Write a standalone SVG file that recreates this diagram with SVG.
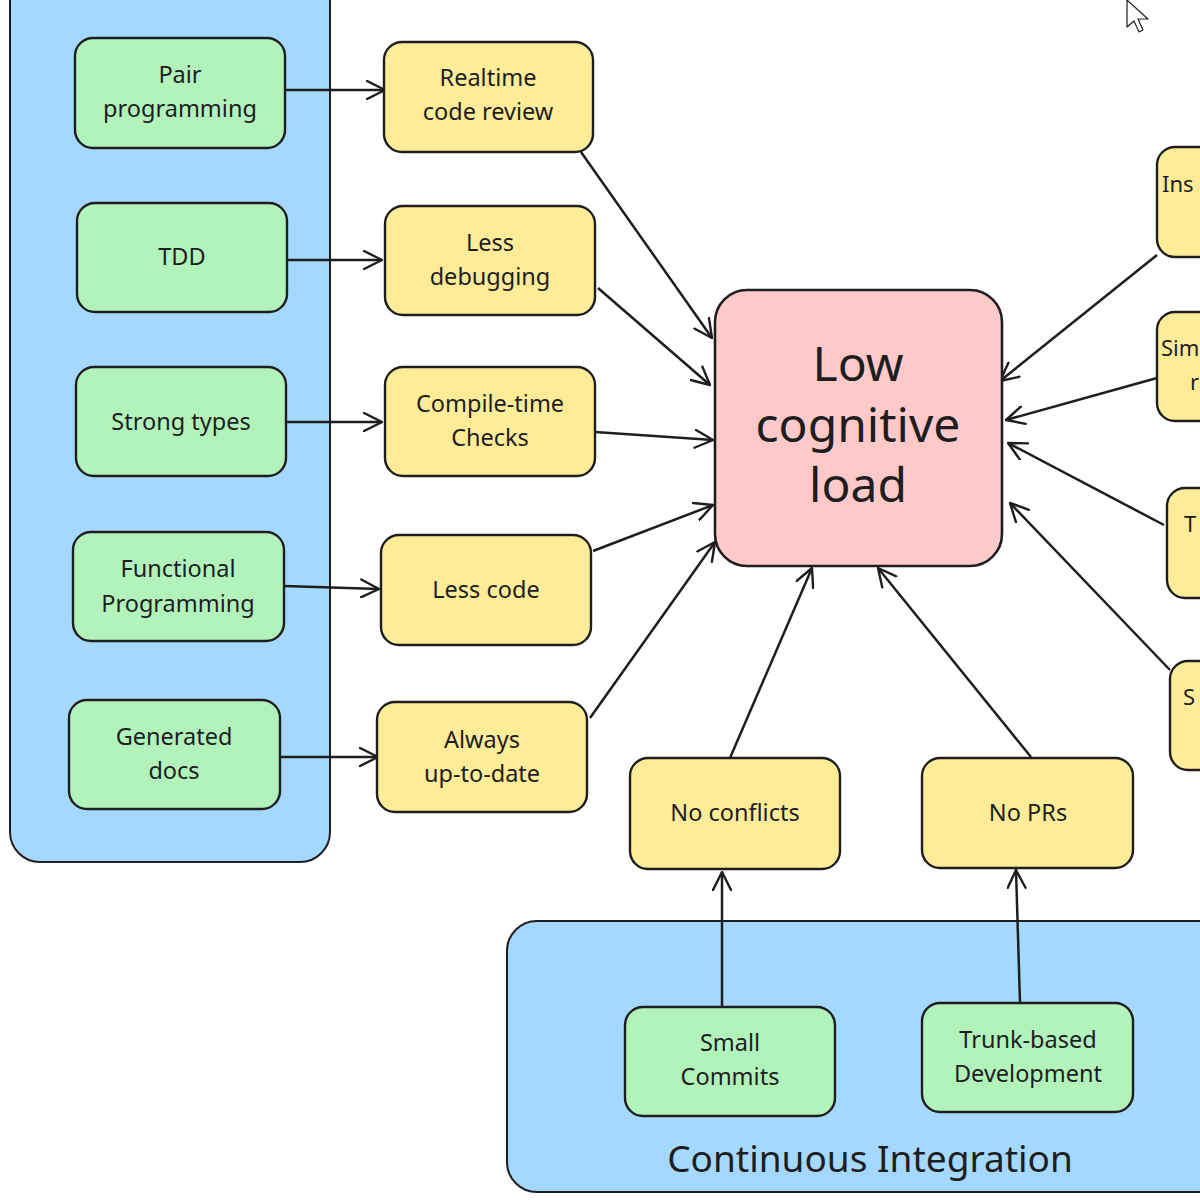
<svg xmlns="http://www.w3.org/2000/svg" width="1200" height="1200" viewBox="0 0 1200 1200">
<defs>
<style>
.grp{fill:#a5d8ff;stroke:#1e1e1e;stroke-width:2}
.g{fill:#b2f2bb;stroke:#1e1e1e;stroke-width:2.4}
.y{fill:#ffec99;stroke:#1e1e1e;stroke-width:2.4}
.p{fill:#ffc9c9;stroke:#1e1e1e;stroke-width:2.6}
.t{font-family:"Noto Sans","DejaVu Sans",sans-serif;font-size:23.5px;fill:#1e1e1e;text-anchor:middle}
.tl{font-family:"Noto Sans","DejaVu Sans",sans-serif;font-size:22px;fill:#1e1e1e;text-anchor:start}
.big{font-family:"Noto Sans","DejaVu Sans",sans-serif;font-size:48px;fill:#1e1e1e;text-anchor:middle}
.ci{font-family:"Noto Sans","DejaVu Sans",sans-serif;font-size:37px;fill:#1e1e1e;text-anchor:middle}
.c{stroke:#1e1e1e;stroke-width:2.5;fill:none;marker-end:url(#ah)}
</style>
<marker id="ah" viewBox="0 0 20 20" refX="19" refY="10" markerWidth="20" markerHeight="20" markerUnits="userSpaceOnUse" orient="auto">
<path d="M1,1 L19,10 L1,19" fill="none" stroke="#1e1e1e" stroke-width="2.4" stroke-linecap="round" stroke-linejoin="round"/>
</marker>
</defs>
<rect width="1200" height="1200" fill="#ffffff"/>

<g id="group-left">
<rect class="grp" x="10" y="-40" width="320" height="902" rx="30"/>
</g>
<g id="group-ci">
<rect class="grp" x="507" y="921" width="740" height="271" rx="30"/>
<text class="ci" x="870" y="1172">Continuous Integration</text>
</g>

<g id="connectors">
<line class="c" x1="283" y1="90" x2="385" y2="90"/>
<line class="c" x1="287" y1="260" x2="382" y2="260"/>
<line class="c" x1="287" y1="422" x2="382" y2="422"/>
<line class="c" x1="284" y1="586" x2="379" y2="589"/>
<line class="c" x1="280" y1="757" x2="378" y2="757"/>
<line class="c" x1="581" y1="152" x2="712" y2="338"/>
<line class="c" x1="598" y1="288" x2="710" y2="385"/>
<line class="c" x1="595" y1="432" x2="713" y2="440"/>
<line class="c" x1="593" y1="551" x2="713" y2="505"/>
<line class="c" x1="590" y1="718" x2="715" y2="542"/>
<line class="c" x1="730" y1="758" x2="812" y2="568"/>
<line class="c" x1="1031" y1="757" x2="878" y2="568"/>
<line class="c" x1="1157" y1="255" x2="1000" y2="381"/>
<line class="c" x1="1157" y1="378" x2="1006" y2="420"/>
<line class="c" x1="1164" y1="525" x2="1008" y2="443"/>
<line class="c" x1="1170" y1="670" x2="1010" y2="503"/>
<line class="c" x1="722" y1="1010" x2="722" y2="872"/>
<line class="c" x1="1020" y1="1003" x2="1016" y2="870"/>
</g>

<g id="n-pair"><rect class="g" x="75" y="38" width="210" height="110" rx="18"/>
<text class="t" x="180" y="83">Pair</text><text class="t" x="180" y="117">programming</text></g>
<g id="n-tdd"><rect class="g" x="77" y="203" width="210" height="109" rx="18"/>
<text class="t" x="182" y="265">TDD</text></g>
<g id="n-strong"><rect class="g" x="76" y="367" width="210" height="109" rx="18"/>
<text class="t" x="181" y="430">Strong types</text></g>
<g id="n-functional"><rect class="g" x="73" y="532" width="211" height="109" rx="18"/>
<text class="t" x="178" y="577">Functional</text><text class="t" x="178" y="612">Programming</text></g>
<g id="n-generated"><rect class="g" x="69" y="700" width="211" height="109" rx="18"/>
<text class="t" x="174" y="745">Generated</text><text class="t" x="174" y="779">docs</text></g>

<g id="n-realtime"><rect class="y" x="384" y="42" width="209" height="110" rx="18"/>
<text class="t" x="488" y="86">Realtime</text><text class="t" x="488" y="120">code review</text></g>
<g id="n-lessdebug"><rect class="y" x="385" y="206" width="210" height="109" rx="18"/>
<text class="t" x="490" y="251">Less</text><text class="t" x="490" y="285">debugging</text></g>
<g id="n-compile"><rect class="y" x="385" y="367" width="210" height="109" rx="18"/>
<text class="t" x="490" y="412">Compile-time</text><text class="t" x="490" y="446">Checks</text></g>
<g id="n-lesscode"><rect class="y" x="381" y="535" width="210" height="110" rx="18"/>
<text class="t" x="486" y="598">Less code</text></g>
<g id="n-always"><rect class="y" x="377" y="702" width="210" height="110" rx="18"/>
<text class="t" x="482" y="748">Always</text><text class="t" x="482" y="782">up-to-date</text></g>

<g id="n-center"><rect class="p" x="715" y="290" width="287" height="276" rx="32"/>
<text class="big" x="858" y="381">Low</text><text class="big" x="858" y="442">cognitive</text><text class="big" x="858" y="502">load</text></g>

<g id="n-noconflicts"><rect class="y" x="630" y="758" width="210" height="111" rx="18"/>
<text class="t" x="735" y="821">No conflicts</text></g>
<g id="n-noprs"><rect class="y" x="922" y="758" width="211" height="110" rx="18"/>
<text class="t" x="1028" y="821">No PRs</text></g>

<g id="n-ins"><rect class="y" x="1157" y="147" width="120" height="110" rx="18"/>
<text class="tl" x="1162" y="192">Ins</text></g>
<g id="n-sim"><rect class="y" x="1157" y="312" width="120" height="109" rx="18"/>
<text class="tl" x="1161" y="356">Sim</text><text class="tl" x="1190" y="390">r</text></g>
<g id="n-t"><rect class="y" x="1167" y="488" width="120" height="110" rx="18"/>
<text class="tl" x="1184" y="532">T</text></g>
<g id="n-s"><rect class="y" x="1170" y="661" width="120" height="109" rx="18"/>
<text class="tl" x="1183" y="705">S</text></g>

<g id="n-small"><rect class="g" x="625" y="1007" width="210" height="109" rx="18"/>
<text class="t" x="730" y="1051">Small</text><text class="t" x="730" y="1085">Commits</text></g>
<g id="n-trunk"><rect class="g" x="922" y="1003" width="211" height="109" rx="18"/>
<text class="t" x="1028" y="1048">Trunk-based</text><text class="t" x="1028" y="1082">Development</text></g>

<path d="M1127,0 L1127,27 L1134,21 L1139,32 L1143,30 L1138,19 L1148,19 Z" fill="#ffffff" stroke="#1e1e1e" stroke-width="1.2" stroke-linejoin="round"/>
</svg>
